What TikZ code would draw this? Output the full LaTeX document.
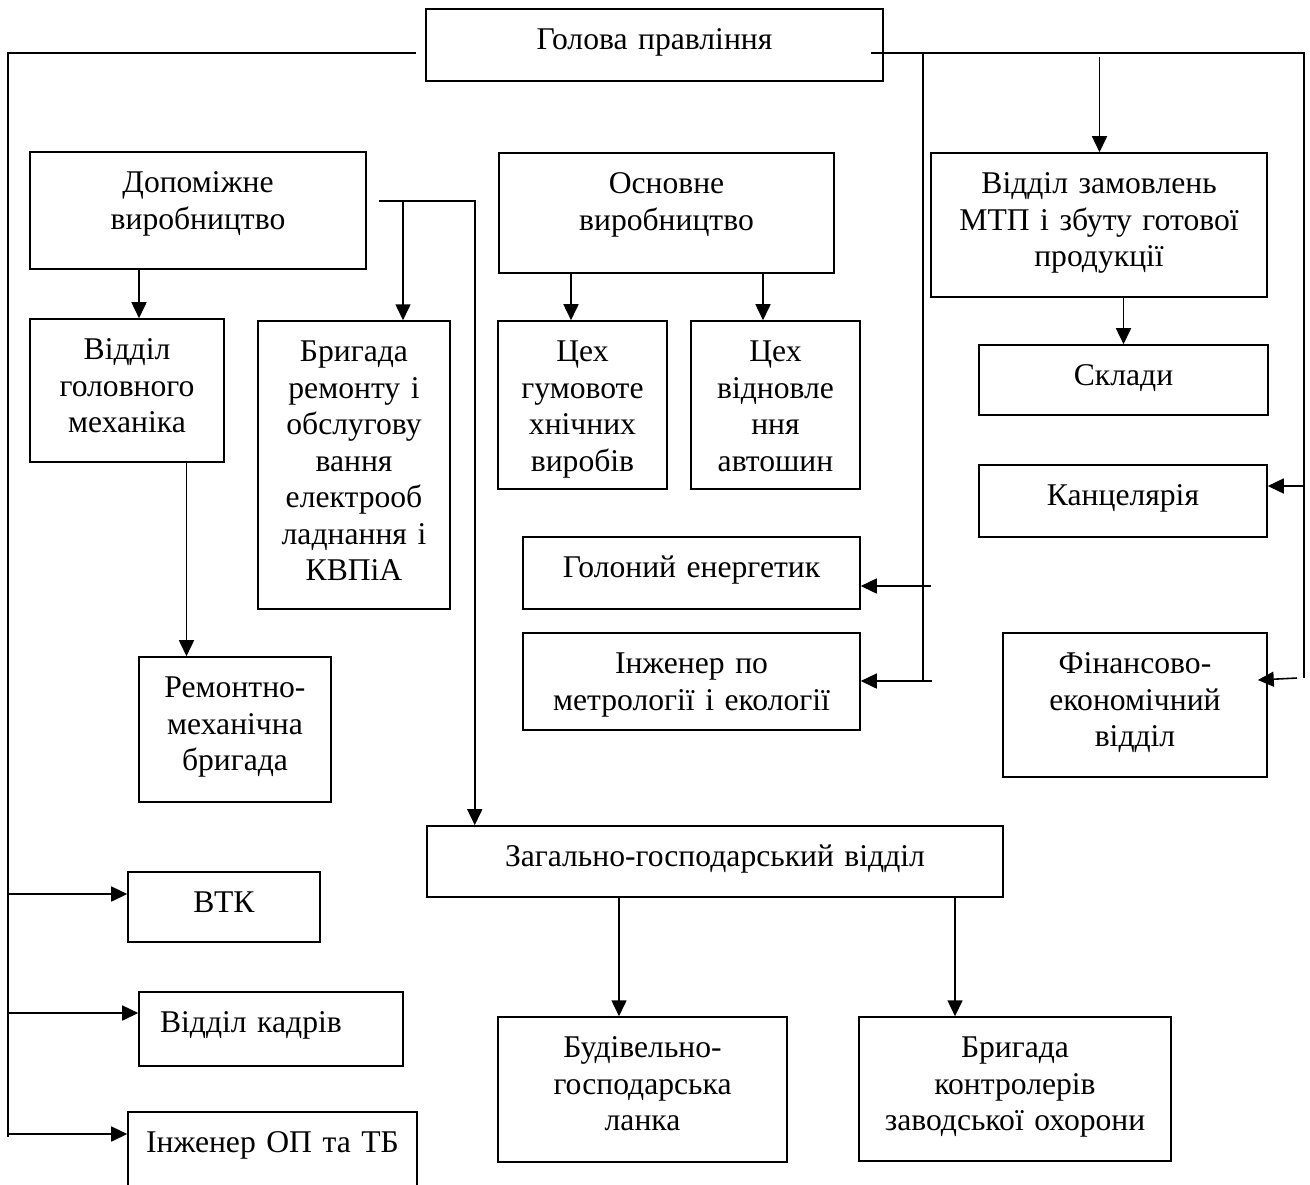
\documentclass[tikz,border=0pt]{standalone}
\usepackage{fontspec}
\setmainfont{Liberation Serif}
\usepackage{tikz}
\usetikzlibrary{calc,arrows.meta}
% box={width}{depth below the first baseline}, text hangs from the top
\tikzset{box/.style 2 args={draw, line width=0.9pt, inner sep=0pt, align=center, text width=#1cm, text height=0.81cm, text depth=#2cm}}

\begin{document}
\begin{tikzpicture}[
    x=0.02cm, y=-0.02cm,
    font=\fontsize{18pt}{20.8pt}\selectfont,
    >={Triangle[length=0.32cm,width=0.3cm]},
    line width=0.9pt
  ]
  \useasboundingbox (0,0) rectangle (1310,1184);

  % Head of the board
  \node (head)    [box={9.14}{0.63}] at (654.5,45) {Голова правління};

  % Second level
  \node (aux)     [box={6.72}{1.53}] at (198,210.5) {Допоміжне\\виробництво};
  \node (main)    [box={6.70}{1.59}] at (666.5,213) {Основне\\виробництво};
  \node (orders)  [box={6.72}{2.07}] at (1099,225) {Відділ замовлень\\МТП і збуту готової\\продукції};

  % Shops and brigades
  \node (mech)    [box={3.88}{2.05}] at (127,390.5) {Відділ\\головного\\механіка};
  \node (elec)    [box={3.84}{4.95}] at (354,465) {Бригада\\ремонту і\\обслугову\\вання\\електрооб\\ладнання і\\КВПіА};
  \node (rubber)  [box={3.38}{2.55}] at (582.5,405) {Цех\\гумовоте\\хнічних\\виробів};
  \node (tyre)    [box={3.38}{2.55}] at (775.5,405) {Цех\\відновле\\ння\\автошин};
  \node (repair)  [box={3.84}{2.09}] at (235,729.5) {Ремонтно-\\механічна\\бригада};

  % Right column
  \node (store)   [box={5.78}{0.59}] at (1123.5,380) {Склади};
  \node (office)  [box={5.76}{0.63}] at (1123,501) {Канцелярія};
  \node (fin)     [box={5.28}{2.07}] at (1135,705) {Фінансово-\\економічний\\відділ};

  % Engineers
  \node (energy)  [box={6.74}{0.63}] at (691.5,573) {Голоний енергетик};
  \node (metro)   [box={6.74}{1.13}] at (691.5,681.5) {Інженер по\\метрології і екології};

  % General department
  \node (general) [box={11.52}{0.61}] at (715,861.5) {Загально-господарський відділ};
  \node (build)   [box={5.78}{2.09}] at (642.5,1089.5) {Будівельно-\\господарська\\ланка};
  \node (guard)   [box={6.24}{2.07}] at (1015,1089) {Бригада\\контролерів\\заводської охорони};

  % Left column
  \node (qc)      [box={3.84}{0.59}] at (224,907) {ВТК};
  \node (staff)   [box={4.44}{0.67}, inner xsep=0.42cm, align=left] at (271,1029) {Відділ кадрів};
  \node (safety)  [box={5.78}{0.95}] at (272.5,1156) {Інженер ОП та ТБ};

  % Left bus
  \coordinate (lbus_top) at (416,53);
  \coordinate (lbus_end) at (8,1137);
  \draw (lbus_top) -| (lbus_end);
  \coordinate (qc_in) at (8,894);
  \coordinate (staff_in) at (8,1013);
  \coordinate (safety_in) at (8,1134);
  \draw[->] (qc_in) -- (qc_in -| qc.west);
  \draw[->] (staff_in) -- (staff_in -| staff.west);
  \draw[->] (safety_in) -- (safety_in -| safety.west);

  % Right bus
  \coordinate (rbus_top) at (871,53);
  \coordinate (rbus_end) at (1304,678);
  \draw (rbus_top) -| (rbus_end);
  \coordinate (mbus_top) at (923,53);
  \coordinate (mbus_end) at (923,681);
  \draw (mbus_top) -- (mbus_end);
  \coordinate (ord_in) at (1099.5,57);
  \draw[->] (ord_in) -- (ord_in |- orders.north);
  \coordinate (en_in) at (931,586);
  \draw[->] (en_in) -- (en_in -| energy.east);
  \coordinate (me_in) at (932,681);
  \draw[->] (me_in) -- (me_in -| metro.east);
  \coordinate (off_in) at (1304,486);
  \draw[->] (off_in) -- (off_in -| office.east);
  \coordinate (fin_in) at (1297,678);
  \draw[->] (fin_in) -- ($(fin_in -| fin.east)+(-10,2)$);
  \draw[->] (orders.south -| store.north) -- (store.north);

  % Auxiliary production
  \coordinate (aux_r) at (379,201);
  \coordinate (aux_b) at (403,201);
  \draw[->] (aux_r) -| ([xshift=0.97cm]general.north west);
  \draw[->] (aux_b) -- (aux_b |- elec.north);
  \draw[->] ([xshift=-1.18cm]aux.south) -- ([xshift=-1.18cm]aux.south |- mech.north);
  \draw[->] ([xshift=1.19cm]mech.south) -- ([xshift=1.19cm]mech.south |- repair.north);

  % Main production
  \draw[->] ([xshift=-0.23cm]rubber.north |- main.south) -- ([xshift=-0.23cm]rubber.north);
  \draw[->] ([xshift=-0.25cm]tyre.north |- main.south) -- ([xshift=-0.25cm]tyre.north);

  % General department
  \draw[->] ([xshift=-0.47cm]build.north |- general.south) -- ([xshift=-0.47cm]build.north);
  \draw[->] ([xshift=-1.2cm]guard.north |- general.south) -- ([xshift=-1.2cm]guard.north);

\end{tikzpicture}
\end{document}
